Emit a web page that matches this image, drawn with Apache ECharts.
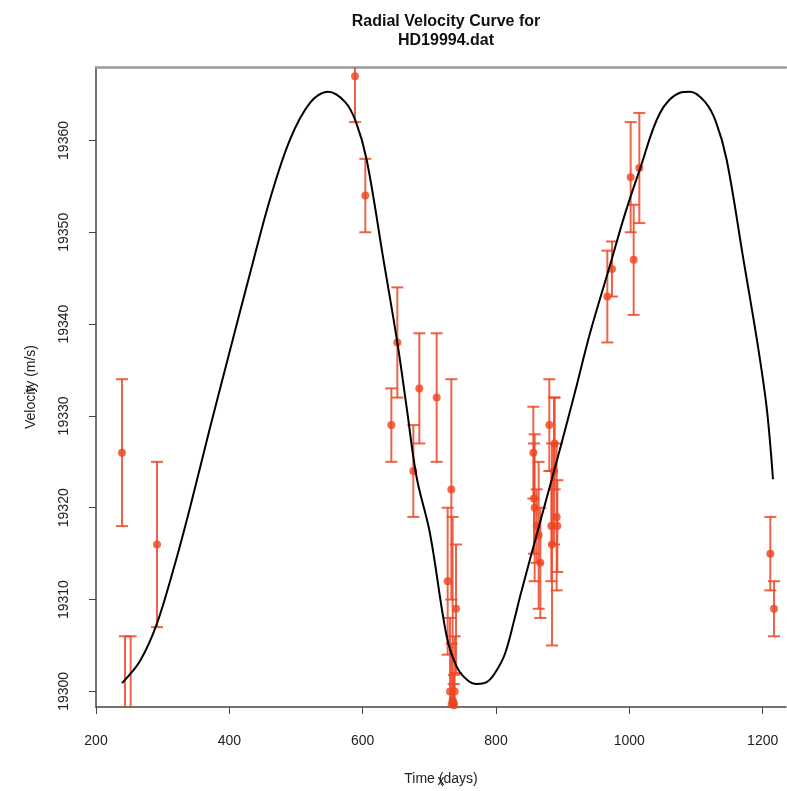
<!DOCTYPE html>
<html>
<head>
<meta charset="utf-8">
<title>Radial Velocity Curve for HD19994.dat</title>
<script src="https://cdn.jsdelivr.net/npm/echarts@6.0.0/dist/echarts.min.js"></script>
<style>
  html, body { margin: 0; padding: 0; background: #fff; }
  #main { width: 787px; height: 791px; }
</style>
</head>
<body>
<div id="main"></div>
<script>
var obsTime = [239, 243.5, 252, 291.5, 588.5, 604, 643, 652, 676, 685, 711,
    733, 727.5, 740, 731, 738, 735, 733.5, 736.5, 737,
    856, 857, 858, 861, 864, 866.5, 880, 888, 887, 883, 892, 891, 884,
    967, 974, 1002, 1006.5, 1015, 1211.5, 1217];
var obsVel = [19326, 19296, 19296, 19316, 19367, 19354, 19329, 19338, 19324, 19333, 19332,
    19322, 19312, 19309, 19300, 19300, 19299, 19298.6, 19298.8, 19298.5,
    19326, 19321, 19320, 19318, 19317, 19314, 19329, 19327, 19324, 19318, 19318, 19319, 19316,
    19343, 19346, 19356, 19347, 19357, 19315, 19309];
var obsErr = [8, 10, 10, 9, 5, 4, 4, 6, 5, 6, 7,
    12, 8, 7, 8, 6, 20, 6.6, 2, 3.3,
    5, 6, 8, 4, 8, 6, 5, 5, 8, 6, 5, 8, 11,
    5, 3, 6, 6, 6, 4, 3];

// fitted curve
var fitTime = [239, 266, 291.5, 318.5, 341, 371, 398, 431, 461, 491, 521, 548,
    573.5, 589.5, 606, 631, 652, 666, 681, 701, 726, 741, 756, 771,
    786, 798.5, 813.5, 828.5, 836, 866, 896, 918.5, 941, 971, 993.5, 1016, 1046, 1076, 1091,
    1113.5, 1129.5, 1146, 1171, 1192, 1206, 1215.5];
var fitVel = [19300.9, 19303.3, 19307.4, 19313.9, 19320.0, 19328.7, 19336.3, 19345.5, 19353.6, 19360.1, 19364.1, 19365.3,
    19364.2, 19362.1, 19357.9, 19347.1, 19338.0, 19330.9, 19323.3, 19317.2, 19306.0, 19302.7, 19301.3, 19300.8,
    19301.0, 19302.0, 19304.1, 19308.1, 19310.3, 19318.4, 19326.4, 19332.6, 19339.0, 19346.4, 19352.0, 19356.9, 19363.0, 19365.2, 19365.3,
    19364.2, 19362.1, 19357.9, 19347.1, 19338.0, 19330.9, 19323.1];

var xTicks = [200, 400, 600, 800, 1000, 1200];
var yTicks = [19300, 19310, 19320, 19330, 19340, 19350, 19360];

var RED = '#f0421f';
var BAR = 'rgba(236, 72, 40, 0.85)';
var FONT = '"Liberation Sans", Arial, sans-serif';

var points = [], bars = [], fit = [];
for (var i = 0; i < obsTime.length; i++) {
    points.push([obsTime[i], obsVel[i]]);
    bars.push([obsTime[i], obsVel[i] - obsErr[i], obsVel[i] + obsErr[i]]);
}
for (var j = 0; j < fitTime.length; j++) {
    fit.push([fitTime[j], fitVel[j]]);
}

function plain(v) {
    return String(v);
}

function renderErrorBar(params, api) {
    var x = api.value(0);
    var lo = api.coord([x, api.value(1)]);
    var hi = api.coord([x, api.value(2)]);
    var cs = params.coordSys;
    var top = Math.max(hi[1], cs.y);
    var bottom = Math.min(lo[1], cs.y + cs.height);
    if (top >= bottom) {
        return;
    }
    var style = { stroke: BAR, lineWidth: 2, fill: null };
    var half = 6;
    var children = [{
        type: 'line',
        shape: { x1: hi[0], y1: top, x2: hi[0], y2: bottom },
        style: style
    }];
    if (hi[1] >= cs.y) {
        children.push({ type: 'line', shape: { x1: hi[0] - half, y1: hi[1], x2: hi[0] + half, y2: hi[1] }, style: style });
    }
    if (lo[1] <= cs.y + cs.height) {
        children.push({ type: 'line', shape: { x1: lo[0] - half, y1: lo[1], x2: lo[0] + half, y2: lo[1] }, style: style });
    }
    return { type: 'group', children: children };
}

var chart = echarts.init(document.getElementById('main'), null, { renderer: 'canvas' });

var option = {
    animation: false,
    backgroundColor: '#ffffff',
    textStyle: { fontFamily: FONT },
    title: {
        text: 'Radial Velocity Curve for\nHD19994.dat',
        left: 441,
        textAlign: 'center',
        top: 7,
        textStyle: { fontFamily: FONT, fontSize: 16, fontWeight: 'bold', color: '#111', lineHeight: 19 }
    },
    grid: { left: 96, top: 67, right: 1, bottom: 80, containLabel: false },
    xAxis: [{
        type: 'value',
        min: 200,
        max: 1235,
        name: 'Time (days)',
        nameLocation: 'middle',
        nameGap: 65,
        nameTextStyle: { fontFamily: FONT, fontSize: 14, color: '#222' },
        axisLine: { onZero: false, lineStyle: { color: '#444', width: 1.5 } },
        axisTick: { show: true, length: 7, customValues: xTicks, lineStyle: { color: '#444', width: 1 } },
        axisLabel: { customValues: xTicks, formatter: plain, margin: 27, fontFamily: FONT, fontSize: 14, color: '#222' },
        splitLine: { show: false }
    }, {
        type: 'value',
        position: 'top',
        min: 200,
        max: 1235,
        axisLine: { show: true, onZero: false, lineStyle: { color: '#9a9a9a', width: 2.5 } },
        axisTick: { show: false },
        axisLabel: { show: false },
        splitLine: { show: false }
    }],
    yAxis: {
        type: 'value',
        min: 19298.3,
        max: 19368,
        name: 'Velocity (m/s)',
        nameLocation: 'middle',
        nameGap: 58,
        nameTextStyle: { fontFamily: FONT, fontSize: 14, color: '#222' },
        axisLine: { show: true, onZero: false, lineStyle: { color: '#444', width: 1.5 } },
        axisTick: { show: true, length: 7, customValues: yTicks, lineStyle: { color: '#444', width: 1 } },
        axisLabel: { customValues: yTicks, formatter: plain, rotate: 90, margin: 25, fontFamily: FONT, fontSize: 14, color: '#222' },
        splitLine: { show: false }
    },
    graphic: [
        // R overprinted the default "x"/"y" labels under the custom ones
        { type: 'text', x: 441, y: 781, style: { text: 'x', font: '14px ' + FONT, fill: '#222', align: 'center', verticalAlign: 'middle' } },
        { type: 'text', x: 30, y: 389, rotation: Math.PI / 2, style: { text: 'y', font: '14px ' + FONT, fill: '#222', align: 'center', verticalAlign: 'middle' } }
    ],
    series: [{
        name: 'error',
        type: 'custom',
        renderItem: renderErrorBar,
        encode: { x: 0, y: [1, 2] },
        data: bars,
        z: 2
    }, {
        name: 'observed',
        type: 'scatter',
        symbol: 'circle',
        symbolSize: 8,
        itemStyle: { color: RED },
        data: points,
        clip: true,
        z: 3
    }, {
        name: 'fit',
        type: 'line',
        smooth: 0.35,
        showSymbol: false,
        lineStyle: { color: '#000', width: 2 },
        data: fit,
        clip: true,
        z: 4
    }]
};

chart.setOption(option);
</script>
</body>
</html>
